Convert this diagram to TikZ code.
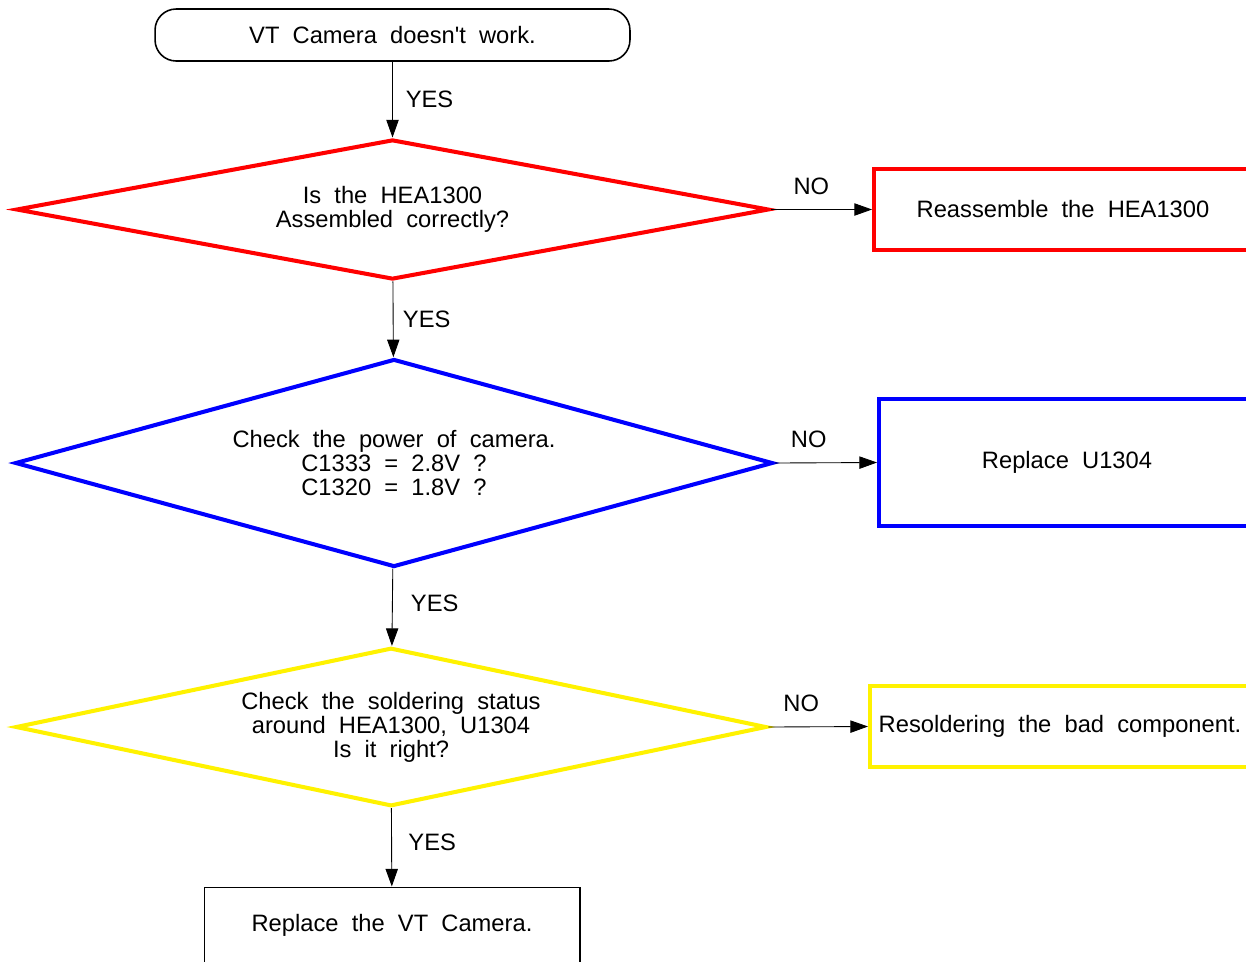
\documentclass[tikz,border=0pt]{standalone}
\usepackage{fontspec}
\setmainfont{Liberation Sans}[WordSpace=2]
\usetikzlibrary{shapes.geometric,arrows.meta}
\begin{document}
\begin{tikzpicture}[x=0.02cm,y=-0.02cm,
    font=\fontsize{13.5}{13.6}\selectfont,
    decision/.style={diamond, draw, line width=2.3pt, align=center, inner sep=0pt},
    action/.style={rectangle, draw, line width=2.3pt, align=center},
    flow/.style={-{Triangle[length=10pt,width=7pt]}, line width=0.5pt},
    nolabel/.style={pos=0.4, above, yshift=5pt}]
    \useasboundingbox (0,0) rectangle (1246,961);

    %%%%%%%%%%%%%%%%%%%%%%%%%%%%%%%%%%%%%%%%%%%%%%
    % Main column: start, checks, final step
    %%%%%%%%%%%%%%%%%%%%%%%%%%%%%%%%%%%%%%%%%%%%%%
    \node[draw, rounded corners=12pt, line width=0.9pt,
          minimum width=9.5cm, minimum height=1.04cm] (start) at (392.5,35) {VT Camera doesn\textquotesingle t work.};

    % Check 1: assembly (red)
    \node[decision, red, text=black, shape aspect=5.4, minimum width=15.06cm, minimum height=2.8cm] (assembled) at (392.5,209.5)
        {Is the HEA1300\\Assembled correctly?};

    % Check 2: power (blue)
    \node[decision, blue, text=black, shape aspect=3.64, minimum width=15.16cm, minimum height=4.16cm] (power) at (394,463)
        {Check the power of camera.\\C1333 = 2.8V ?\\C1320 = 1.8V ?};

    % Check 3: soldering (yellow)
    \node[decision, yellow, text=black, shape aspect=4.74, minimum width=15.02cm, minimum height=3.17cm] (solder) at (391,727)
        {Check the soldering status\\around HEA1300, U1304\\Is it right?};

    \node[draw, line width=0.6pt, minimum width=7.52cm, minimum height=1.52cm] (camera) at (392,925)
        {Replace the VT Camera.};

    %%%%%%%%%%%%%%%%%%%%%%%%%%%%%%%%%%%%%%%%%%%%%%
    % Right column: repair actions
    %%%%%%%%%%%%%%%%%%%%%%%%%%%%%%%%%%%%%%%%%%%%%%
    \node[action, red, text=black, minimum width=7.56cm, minimum height=1.62cm] (reassemble) at (1063,209.5)
        {Reassemble the HEA1300};
    \node[action, blue, text=black, minimum width=7.52cm, minimum height=2.54cm] (replaceU) at (1067,462.5)
        {Replace U1304};
    \node[action, yellow, text=black, minimum width=7.6cm, minimum height=1.62cm] (resolder) at (1060,726.5)
        {Resoldering the bad component.};

    % YES arrows
    \draw[flow] (start) -- (assembled) node[midway, right, xshift=4pt] {YES};
    \draw[flow] (assembled) -- (power) node[midway, right, xshift=2pt] {YES};
    \draw[flow] (power) -- (solder) node[midway, right, xshift=7pt, yshift=2pt] {YES};
    \draw[flow] (solder) -- (camera) node[midway, right, xshift=6pt, yshift=3pt] {YES};

    % NO arrows
    \draw[flow] (assembled.east) -- (reassemble.west) node[nolabel] {NO};
    \draw[flow] (power.east) -- (replaceU.west) node[nolabel, xshift=-4pt] {NO};
    \draw[flow] (solder.east) -- (resolder.west) node[nolabel, xshift=-4pt] {NO};
  \end{tikzpicture}
\end{document}
